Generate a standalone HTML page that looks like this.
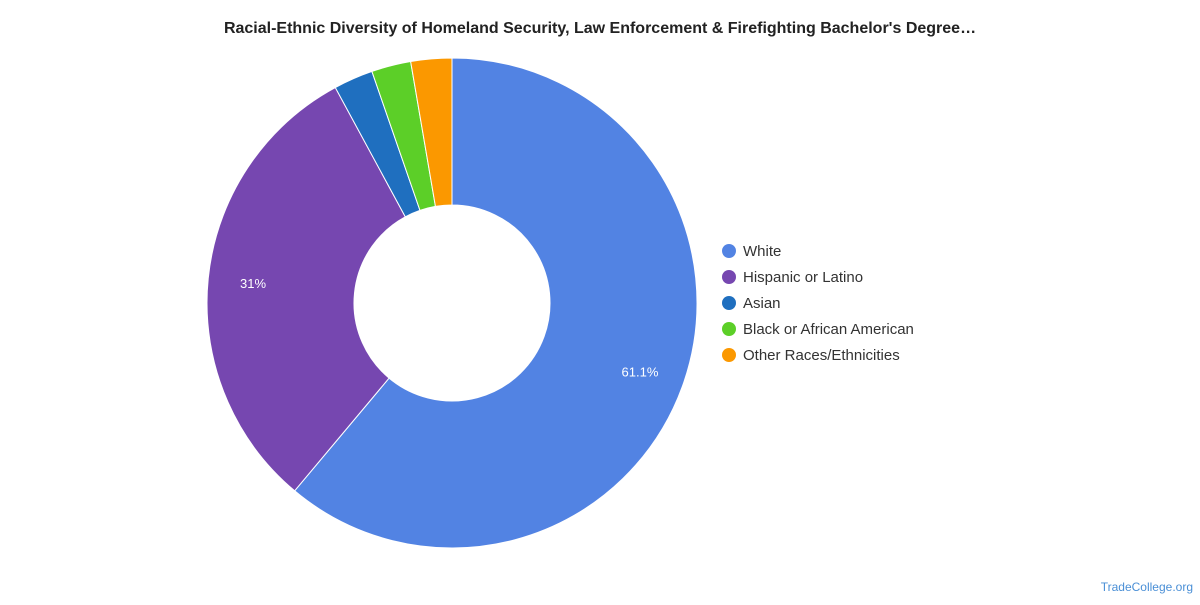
<!DOCTYPE html>
<html><head><meta charset="utf-8"><style>
html,body{margin:0;padding:0;background:#fff;}
body{width:1200px;height:600px;overflow:hidden;font-family:"Liberation Sans",sans-serif;}
svg text{font-family:"Liberation Sans",sans-serif;}
</style></head><body>
<svg id="chart" width="1200" height="600">
<text x="600" y="33" text-anchor="middle" font-size="16" font-weight="bold" fill="#222">Racial-Ethnic Diversity of Homeland Security, Law Enforcement &amp; Firefighting Bachelor's Degree…</text>
<g id="slices"></g>
<g id="labels"></g>
<g id="legend"></g>
<text x="1193" y="591" text-anchor="end" font-size="12" fill="#4a8fd6">TradeCollege.org</text>
</svg>
<script>
const categories = ["White","Hispanic or Latino","Asian","Black or African American","Other Races/Ethnicities"];
const values = [61.1, 31, 2.6, 2.6, 2.7];
const labels = ["61.1%","31%","","",""];
const colors = ["#5283e3","#7647b0","#1f6fbf","#5ccf28","#fb9800"];
const NS="http://www.w3.org/2000/svg";
const cx=452, cy=303, R=245, r=98;
const total=values.reduce((a,b)=>a+b,0);
function pt(a,rad){return [cx+rad*Math.sin(a), cy-rad*Math.cos(a)];}
let a0=0;
const gS=document.getElementById('slices'), gL=document.getElementById('labels'), gLeg=document.getElementById('legend');
values.forEach((v,i)=>{
  const a1=a0+v/total*2*Math.PI;
  const large=(a1-a0)>Math.PI?1:0;
  const [x0,y0]=pt(a0,R),[x1,y1]=pt(a1,R),[x2,y2]=pt(a1,r),[x3,y3]=pt(a0,r);
  const p=document.createElementNS(NS,'path');
  p.setAttribute('d',`M${x0},${y0}A${R},${R} 0 ${large} 1 ${x1},${y1}L${x2},${y2}A${r},${r} 0 ${large} 0 ${x3},${y3}Z`);
  p.setAttribute('fill',colors[i]);p.setAttribute('stroke','#fff');p.setAttribute('stroke-width','1');
  
  
  gS.appendChild(p);
  if(labels[i]){
    const am=(a0+a1)/2;const [lx,ly]=pt(am,R-45);
    const t=document.createElementNS(NS,'text');
    t.setAttribute('x',lx);t.setAttribute('y',ly+5);t.setAttribute('text-anchor','middle');
    t.setAttribute('font-size','13');t.setAttribute('fill','#fff');t.textContent=labels[i];
    
    
    gL.appendChild(t);
  }
  const c=document.createElementNS(NS,'circle');
  c.setAttribute('cx',729);c.setAttribute('cy',251+i*26);c.setAttribute('r',7);c.setAttribute('fill',colors[i]);
  
  
  gLeg.appendChild(c);
  const t=document.createElementNS(NS,'text');
  t.setAttribute('x',743);t.setAttribute('y',256+i*26);t.setAttribute('font-size','15');t.setAttribute('fill','#333');
  t.textContent=categories[i];
  
  
  gLeg.appendChild(t);
  a0=a1;
});
</script>
</body></html>
